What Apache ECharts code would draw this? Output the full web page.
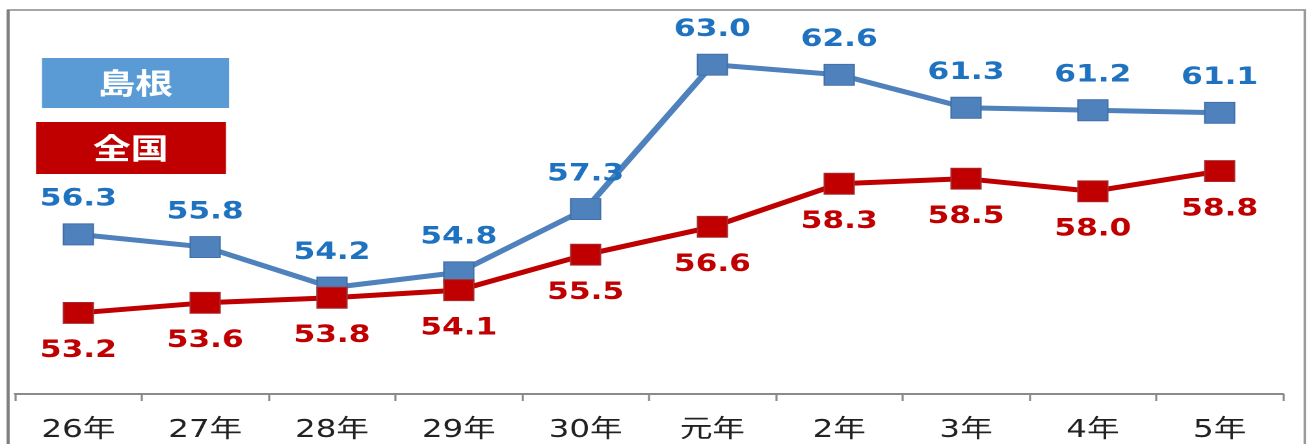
<!DOCTYPE html>
<html>
<head>
<meta charset="utf-8">
<script src="https://cdn.jsdelivr.net/npm/echarts@6/dist/echarts.min.js"></script>
<style>
html,body{margin:0;padding:0;background:#fff;overflow:hidden;}
#wrap{width:1311px;height:444px;overflow:hidden;position:relative;}
#chart{width:1008px;height:444px;transform:scaleX(1.3006);transform-origin:0 0;}
</style>
</head>
<body>
<div id="wrap"><div id="chart"></div></div>
<script>
const categories = ['26年','27年','28年','29年','30年','元年','2年','3年','4年','5年'];
const shimane = [56.3, 55.8, 54.2, 54.8, 57.3, 63.0, 62.6, 61.3, 61.2, 61.1];
const national = [53.2, 53.6, 53.8, 54.1, 55.5, 56.6, 58.3, 58.5, 58.0, 58.8];
const seriesNames = ['島根', '全国'];

const chart = echarts.init(document.getElementById('chart'), null, {devicePixelRatio: 2});
const labelFont = '"DejaVu Sans", "Noto Sans CJK JP", sans-serif';
chart.setOption({
  backgroundColor: '#fff',
  animation: false,
  grid: {left: 11.5, right: 21.5, top: 14, bottom: 50},
  xAxis: {
    type: 'category',
    data: categories,
    boundaryGap: true,
    axisLine: {lineStyle: {color: '#8a8a8a', width: 2}},
    axisTick: {show: true, length: 7, lineStyle: {color: '#8a8a8a', width: 1.6}},
    axisLabel: {color: '#222', fontSize: 25, margin: 24, fontFamily: labelFont}
  },
  yAxis: {
    type: 'value', min: 50, max: 65, show: false,
    splitLine: {show: false}
  },
  graphic: [
    {type: 'rect', shape: {x: 6.2, y: 10, width: 997, height: 440}, style: {fill: 'none', stroke: '#9a9a9a', lineWidth: 1.8}, z: -10},
    {type: 'line', shape: {x1: 6.2, y1: 10, x2: 6.2, y2: 444}, style: {stroke: '#7f7f7f', lineWidth: 2.4}, z: -9},
    {type: 'rect', shape: {x: 32.3, y: 58, width: 143.8, height: 50}, style: {fill: '#5b9bd5'}},
    {type: 'text', x: 104, y: 83, style: {text: seriesNames[0], fill: '#fff', font: 'bold 29px "Noto Sans CJK JP", sans-serif', align: 'center', verticalAlign: 'middle'}},
    {type: 'rect', shape: {x: 27.7, y: 122, width: 146, height: 52}, style: {fill: '#c00000'}},
    {type: 'text', x: 100.5, y: 148, style: {text: seriesNames[1], fill: '#fff', font: 'bold 29px "Noto Sans CJK JP", sans-serif', align: 'center', verticalAlign: 'middle'}}
  ],
  series: [
    {
      name: seriesNames[0], type: 'line', data: shimane,
      symbol: 'rect', symbolSize: [23, 21],
      lineStyle: {color: '#4f81bd', width: 5},
      itemStyle: {color: '#4f81bd', borderColor: '#3f6fa8', borderWidth: 1},
      label: {show: true, position: 'top', distance: 12, color: '#1f72bf', fontSize: 24, fontWeight: 'bold', fontFamily: labelFont,
        formatter: p => p.value.toFixed(1)}
    },
    {
      name: seriesNames[1], type: 'line', data: national,
      symbol: 'rect', symbolSize: [23, 21],
      lineStyle: {color: '#c00000', width: 5},
      itemStyle: {color: '#c00000', borderColor: '#a33035', borderWidth: 1},
      label: {show: true, position: 'bottom', distance: 15, color: '#c00000', fontSize: 24, fontWeight: 'bold', fontFamily: labelFont,
        formatter: p => p.value.toFixed(1)}
    }
  ]
});
</script>
</body>
</html>
